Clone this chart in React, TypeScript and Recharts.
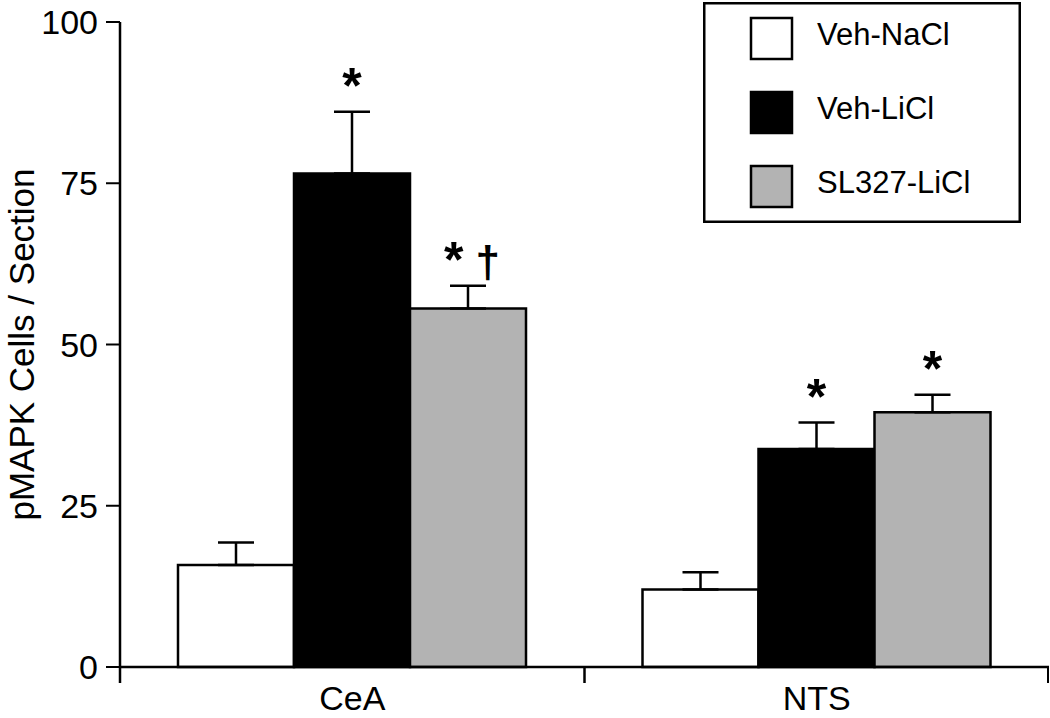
import { BarChart, Bar, XAxis, YAxis, ErrorBar, LabelList, Legend, Label } from 'recharts';

const FONT = '"Liberation Sans", Arial, Helvetica, sans-serif';

const categories = ['CeA', 'NTS'];
const seriesNames = ['Veh-NaCl', 'Veh-LiCl', 'SL327-LiCl'];
const seriesColors = ['#ffffff', '#000000', '#b3b3b3'];

const vehNaCl = [15.8, 12.0];
const vehLiCl = [76.5, 33.8];
const sl327LiCl = [55.6, 39.5];

const vehNaClSE = [3.5, 2.7];
const vehLiClSE = [9.6, 4.1];
const sl327LiClSE = [3.5, 2.7];

const vehNaClMarks = ['', ''];
const vehLiClMarks = ['*', '*'];
const sl327LiClMarks = ['* \u2020', '*'];

const yTicks = [0, 25, 50, 75, 100];

const WIDTH = 1050;
const HEIGHT = 718;
const Y_AXIS_W = 120;
const MARGIN = { top: 22, right: 1, left: 0, bottom: 0 };
const PLOT_W = WIDTH - MARGIN.left - MARGIN.right - Y_AXIS_W;
const BAND = PLOT_W / categories.length;

const data = categories.map((name, i) => ({
  name,
  vehNaCl: vehNaCl[i],
  vehNaClErr: [0, vehNaClSE[i]],
  vehLiCl: vehLiCl[i],
  vehLiClErr: [0, vehLiClSE[i]],
  sl327LiCl: sl327LiCl[i],
  sl327LiClErr: [0, sl327LiClSE[i]],
}));

// significance marks sit just above the top of each error bar
const markRenderer = (marks: string[], values: number[], errs: number[]) => (props: any) => {
  const { x, y, width, height, index } = props;
  const text = marks[index];
  if (!text) return null;
  const pxPerUnit = height / values[index];
  const errTop = y - errs[index] * pxPerUnit;
  const parts = text.split(' ');
  return (
    <text
      x={x + width / 2 + (parts.length > 1 ? 4 : 0)}
      y={errTop - 9}
      textAnchor="middle"
      fontWeight="bold"
      fontSize={50}
      fontFamily={FONT}
      fill="#000"
    >
      {parts.map((p, i) => (
        <tspan key={i} fontSize={p === '*' ? 50 : 44}>
          {i > 0 ? '\u00a0' + p : p}
        </tspan>
      ))}
    </text>
  );
};

const CategoryTick = (props: any) => {
  const { x, y, payload, index } = props;
  const left = x - BAND / 2;
  const right = x + BAND / 2;
  return (
    <g>
      <line x1={left} y1={y} x2={left} y2={y + 16} stroke="#000" strokeWidth={2.5} />
      {index === categories.length - 1 && (
        <line x1={right - 1} y1={y} x2={right - 1} y2={y + 16} stroke="#000" strokeWidth={2} />
      )}
      <text x={x} y={y + 43} textAnchor="middle" fontSize={34} fontFamily={FONT} fill="#000">
        {payload.value}
      </text>
    </g>
  );
};

const renderLegend = (props: any) => {
  const payload = [...(props.payload || [])].sort(
    (a: any, b: any) => seriesNames.indexOf(a.value) - seriesNames.indexOf(b.value)
  );
  return (
    <svg width={318} height={221} style={{ display: 'block' }}>
      <rect x={1.25} y={1.25} width={315.5} height={218.5} fill="#fff" stroke="#000" strokeWidth={2.5} />
      {payload.map((entry: any, i: number) => (
        <g key={entry.value}>
          <rect x={48} y={16 + 74 * i} width={41} height={41} fill={entry.color} stroke="#000" strokeWidth={2.5} />
          <text x={114} y={43 + 74 * i} fontSize={31} fontFamily={FONT} fill="#000">
            {entry.value}
          </text>
        </g>
      ))}
    </svg>
  );
};

export default function App() {
  return (
    <div style={{ position: 'absolute', left: 0, top: 0, background: '#fff' }}>
      <BarChart
        width={WIDTH}
        height={HEIGHT}
        data={data}
        margin={MARGIN}
        barGap={0}
        barCategoryGap={58}
      >
        <XAxis
          dataKey="name"
          height={51}
          interval={0}
          tickSize={0}
          tickMargin={0}
          tickLine={false}
          axisLine={{ stroke: '#000', strokeWidth: 2.5 }}
          tick={<CategoryTick />}
        />
        <YAxis
          width={Y_AXIS_W}
          domain={[0, 100]}
          ticks={yTicks}
          tickSize={14}
          tickMargin={8}
          axisLine={{ stroke: '#000', strokeWidth: 2.5 }}
          tickLine={{ stroke: '#000', strokeWidth: 2 }}
          tick={{ fill: '#000', fontSize: 34, fontFamily: FONT }}
        >
          <Label
            content={(p: any) => {
              const vb = p.viewBox;
              const cy = vb.y + vb.height / 2;
              return (
                <text
                  transform={`translate(34, ${cy}) rotate(-90)`}
                  textAnchor="middle"
                  fontSize={35}
                  fontFamily={FONT}
                  fill="#000"
                >
                  pMAPK Cells / Section
                </text>
              );
            }}
          />
        </YAxis>
        <Legend
          layout="horizontal"
          align="center"
          verticalAlign="middle"
          content={renderLegend}
          wrapperStyle={{ position: 'absolute', left: 703, top: 2, width: 318, height: 221 }}
        />
        <Bar dataKey="vehNaCl" name={seriesNames[0]} fill={seriesColors[0]} stroke="#000" strokeWidth={2.5} isAnimationActive={false}>
          <ErrorBar dataKey="vehNaClErr" direction="y" width={18} stroke="#000" strokeWidth={2.5} />
          <LabelList dataKey="vehNaCl" content={markRenderer(vehNaClMarks, vehNaCl, vehNaClSE)} />
        </Bar>
        <Bar dataKey="vehLiCl" name={seriesNames[1]} fill={seriesColors[1]} stroke="#000" strokeWidth={2.5} isAnimationActive={false}>
          <ErrorBar dataKey="vehLiClErr" direction="y" width={18} stroke="#000" strokeWidth={2.5} />
          <LabelList dataKey="vehLiCl" content={markRenderer(vehLiClMarks, vehLiCl, vehLiClSE)} />
        </Bar>
        <Bar dataKey="sl327LiCl" name={seriesNames[2]} fill={seriesColors[2]} stroke="#000" strokeWidth={2.5} isAnimationActive={false}>
          <ErrorBar dataKey="sl327LiClErr" direction="y" width={18} stroke="#000" strokeWidth={2.5} />
          <LabelList dataKey="sl327LiCl" content={markRenderer(sl327LiClMarks, sl327LiCl, sl327LiClSE)} />
        </Bar>
      </BarChart>
    </div>
  );
}
